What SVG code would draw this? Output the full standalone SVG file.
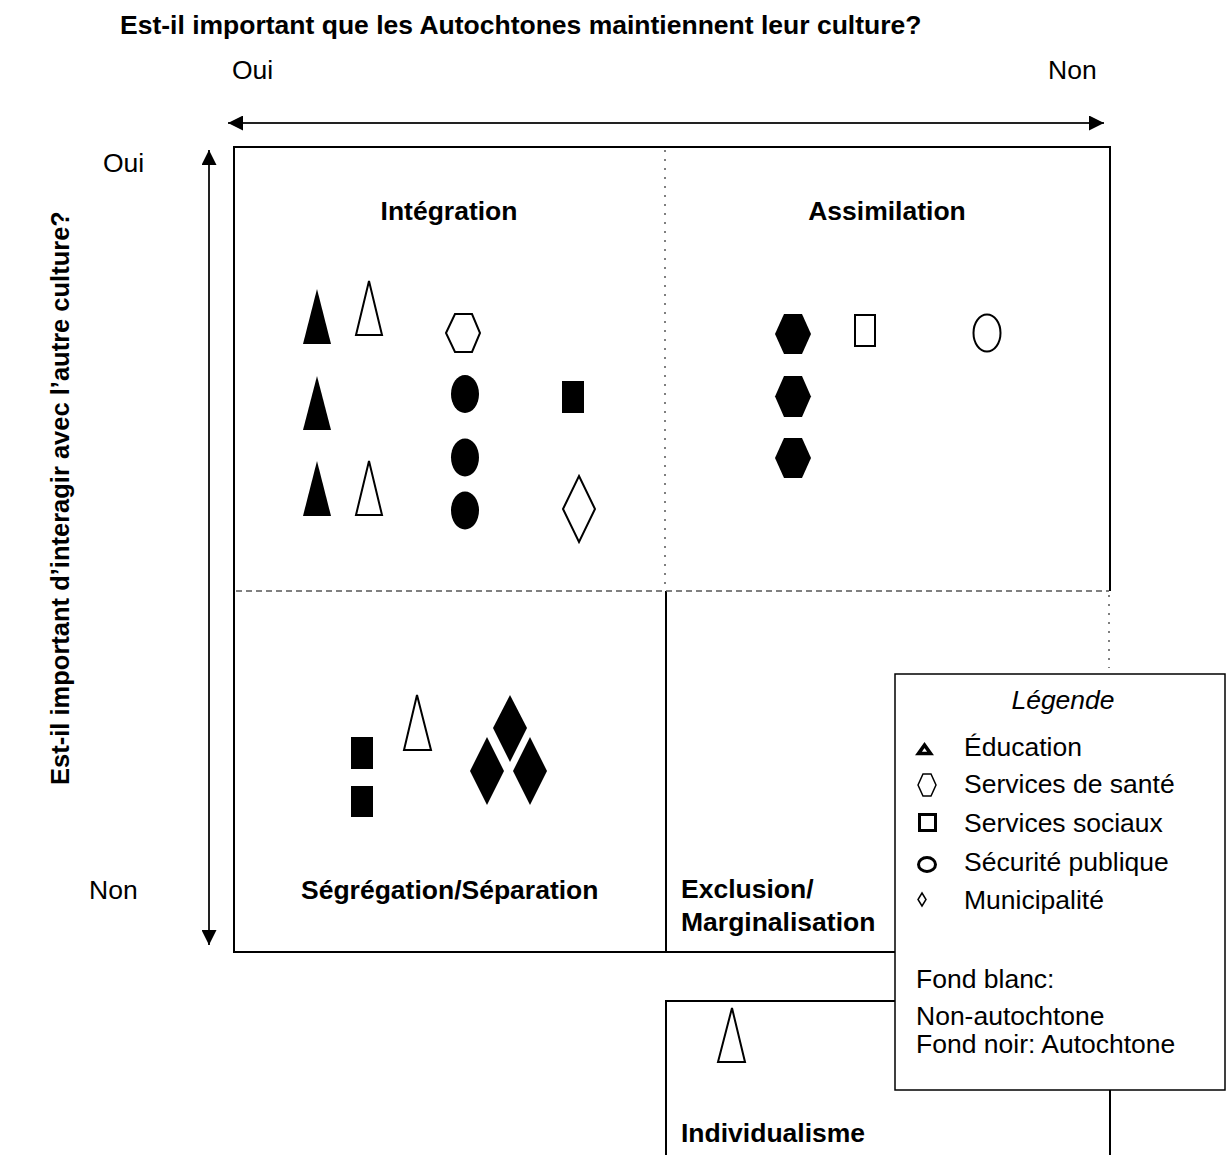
<svg xmlns="http://www.w3.org/2000/svg" width="1230" height="1155" viewBox="0 0 1230 1155">
<style>
text{font-family:"Liberation Sans",Arial,sans-serif;font-size:26.5px;fill:#000}
.b{font-weight:bold}
.frame{fill:none;stroke:#000;stroke-width:2}
.dot{fill:none;stroke:#555;stroke-width:1.5;stroke-dasharray:2 7}
.dash{fill:none;stroke:#555;stroke-width:1.5;stroke-dasharray:6 4}
.blk{fill:#000;stroke:none}
.wht{fill:#fff;stroke:#000;stroke-width:2}
.ax{stroke:#222;stroke-width:2;fill:none}
.sym{fill:none;stroke:#000}
</style>
<defs>
<marker id="arr" viewBox="0 0 15 15" refX="15" refY="7.5" markerWidth="15" markerHeight="15" markerUnits="userSpaceOnUse" orient="auto-start-reverse">
<path d="M0,0 L15,7.5 L0,15 Z" fill="#000"/>
</marker>
</defs>
<rect width="1230" height="1155" fill="#fff"/>

<g id="titles">
<text class="b" x="120" y="34">Est-il important que les Autochtones maintiennent leur culture?</text>
<text x="232" y="79">Oui</text>
<text x="1048" y="79">Non</text>
<text x="103" y="172">Oui</text>
<text x="89" y="899">Non</text>
<text class="b" text-anchor="middle" style="font-size:25.5px" transform="translate(69,498) rotate(-90)">Est-il important d’interagir avec l’autre culture?</text>
</g>

<g id="connectors">
<line class="ax" x1="228" y1="123" x2="1104" y2="123" marker-start="url(#arr)" marker-end="url(#arr)"/>
<line class="ax" x1="209" y1="150" x2="209" y2="945" marker-start="url(#arr)" marker-end="url(#arr)"/>
</g>

<g id="grid">
<path class="frame" d="M1110,591 V147 H234 V952 H895"/>
<line class="frame" x1="666" y1="591" x2="666" y2="952"/>
<line class="dot" x1="665" y1="150" x2="665" y2="590"/>
<line class="dash" x1="236" y1="591" x2="1109" y2="591"/>
<line class="dot" x1="1109" y1="595" x2="1109" y2="668"/>
</g>

<g id="integration">
<text class="b" x="449" y="220" text-anchor="middle">Intégration</text>
<polygon class="blk" points="317,289 331,344 303,344"/>
<polygon class="wht" points="369,281 382,335 356,335"/>
<polygon class="blk" points="317,376 331,430 303,430"/>
<polygon class="blk" points="317,461 331,516 303,516"/>
<polygon class="wht" points="369,461 382,515 356,515"/>
<polygon class="wht" points="446,333 455,314 472,314 480,333 472,352 455,352"/>
<ellipse class="blk" cx="465" cy="394" rx="14" ry="19"/>
<ellipse class="blk" cx="465" cy="457.5" rx="14" ry="19"/>
<ellipse class="blk" cx="465" cy="510.5" rx="14" ry="19"/>
<rect class="blk" x="562" y="381" width="22" height="32"/>
<polygon class="wht" points="579,476 595,509 579,542 563,509"/>
</g>

<g id="assimilation">
<text class="b" x="887" y="220" text-anchor="middle">Assimilation</text>
<polygon class="blk" points="775,334 784,314 802,314 811,334 802,354 784,354"/>
<polygon class="blk" points="775,396.5 784,376 802,376 811,396.5 802,417 784,417"/>
<polygon class="blk" points="775,458 784,438 802,438 811,458 802,478 784,478"/>
<rect class="wht" x="855" y="315" width="20" height="31"/>
<ellipse class="wht" cx="987" cy="333" rx="13.5" ry="18.5"/>
</g>

<g id="segregation">
<text class="b" x="301" y="899">Ségrégation/Séparation</text>
<rect class="blk" x="351" y="737" width="22" height="32"/>
<rect class="blk" x="351" y="786" width="22" height="31"/>
<polygon class="wht" points="417,695 431,750 404,750"/>
<polygon class="blk" points="510,695 527,728 510,762 493,728"/>
<polygon class="blk" points="487,737 504,771 487,805 470,771"/>
<polygon class="blk" points="530,737 547,771 530,805 513,771"/>
</g>

<g id="exclusion">
<text class="b" x="681" y="898">Exclusion/</text>
<text class="b" x="681" y="931">Marginalisation</text>
</g>

<g id="individualisme">
<path class="frame" d="M666,1160 V1001 H895"/>
<line class="frame" x1="1110" y1="1088" x2="1110" y2="1160"/>
<polygon class="wht" points="732,1008 745,1062 718,1062"/>
<text class="b" x="681" y="1142">Individualisme</text>
</g>

<g id="legende">
<rect x="895" y="674" width="330" height="416" fill="#fff" stroke="#000" stroke-width="1.5"/>
<text x="1063" y="709" text-anchor="middle" font-style="italic">Légende</text>
<polygon class="sym" stroke-width="3.6" stroke-linejoin="miter" points="918.5,753.5 924.5,745 930.5,753.5"/>
<text x="964" y="756">Éducation</text>
<polygon class="sym" stroke-width="1.5" points="918,785 923,774 931,774 936,785 931,796 923,796"/>
<text x="964" y="793">Services de santé</text>
<rect class="sym" stroke-width="3" x="919.5" y="814.5" width="16" height="16"/>
<text x="964" y="832">Services sociaux</text>
<ellipse class="sym" stroke-width="3" cx="927" cy="864.5" rx="8.5" ry="7"/>
<text x="964" y="871">Sécurité publique</text>
<polygon class="sym" stroke-width="1.5" points="922,893 926,899.5 922,906 918,899.5"/>
<text x="964" y="909">Municipalité</text>
<text x="916" y="988">Fond blanc:</text>
<text x="916" y="1025">Non-autochtone</text>
<text x="916" y="1053">Fond noir: Autochtone</text>
</g>
</svg>
